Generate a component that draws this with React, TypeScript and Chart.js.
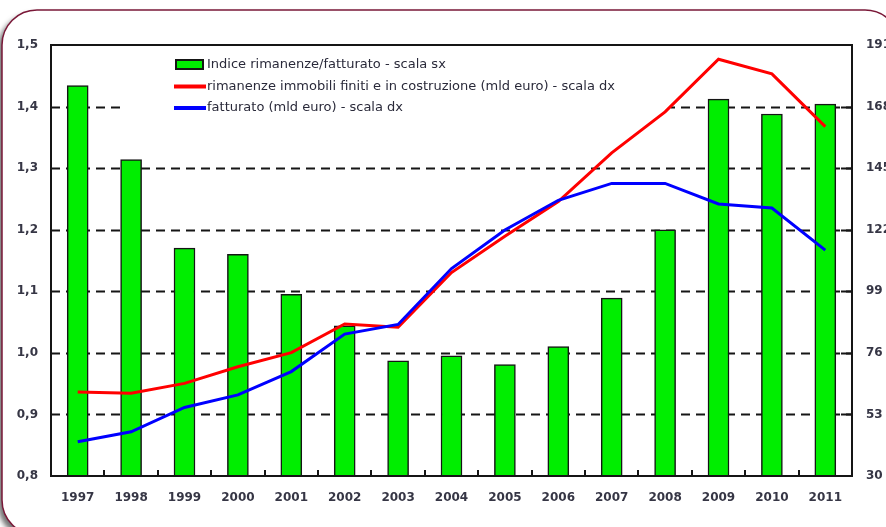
import React, { useEffect, useRef } from "react";
import { Chart, registerables } from "chart.js";

Chart.register(...registerables);

const years = ["1997", "1998", "1999", "2000", "2001", "2002", "2003", "2004", "2005", "2006", "2007", "2008", "2009", "2010", "2011"];
const ratioIndex = [1.434, 1.314, 1.17, 1.16, 1.095, 1.044, 0.987, 0.995, 0.981, 1.01, 1.089, 1.2, 1.412, 1.388, 1.404];
const inventories = [61.4, 60.9, 64.6, 70.8, 76.1, 86.8, 85.6, 106, 119.6, 132.5, 150.7, 166, 185.7, 180.2, 160.5];
const turnover = [42.8, 46.5, 55.6, 60.3, 69.0, 83, 86.6, 107.5, 121.9, 133, 139.3, 139.3, 131.6, 130.1, 114.4];
const leftTickLabels = ["0,8", "0,9", "1,0", "1,1", "1,2", "1,3", "1,4", "1,5"];
const rightTickLabels = ["30", "53", "76", "99", "122", "145", "168", "191"];
const seriesLabels = [
  "Indice rimanenze/fatturato - scala sx",
  "rimanenze immobili finiti e in costruzione (mld euro) - scala dx",
  "fatturato (mld euro) - scala dx",
];

const tickFont = { family: "'DejaVu Sans', sans-serif", size: 12, weight: "bold" as const };
const tickColor = "#363645";

const decor = {
  id: "decor",
  beforeDraw(chart: any) {
    const ctx = chart.ctx;
    ctx.save();
    ctx.fillStyle = "#ffffff";
    ctx.fillRect(0, 0, chart.width, chart.height);
    ctx.beginPath();
    (ctx as any).roundRect(2, 10, 898, 525, 35);
    ctx.shadowColor = "rgba(70,70,70,0.75)";
    ctx.shadowBlur = 5;
    ctx.shadowOffsetX = -4;
    ctx.shadowOffsetY = 4;
    ctx.fillStyle = "#ffffff";
    ctx.fill();
    ctx.shadowColor = "transparent";
    ctx.lineWidth = 1.5;
    ctx.strokeStyle = "#7a1838";
    ctx.stroke();
    ctx.restore();
  },
  beforeDatasetsDraw(chart: any) {
    const ctx = chart.ctx;
    const a = chart.chartArea;
    const ys = chart.scales.y;
    ctx.save();
    ctx.strokeStyle = "#151515";
    ctx.lineWidth = 2;
    ctx.setLineDash([9, 6]);
    ys.ticks.forEach((t: any, i: number) => {
      if (i === 0 || i === ys.ticks.length - 1) return;
      const y = Math.round(ys.getPixelForValue(t.value)) + 0.5;
      ctx.beginPath();
      ctx.moveTo(a.left, y);
      ctx.lineTo(a.right, y);
      ctx.stroke();
    });
    ctx.setLineDash([]);
    // legend background
    ctx.fillStyle = "#ffffff";
    ctx.fillRect(120, 50, 551, 66);
    ctx.restore();
  },
  afterDatasetsDraw(chart: any) {
    const ctx = chart.ctx;
    const a = chart.chartArea;
    const xs = chart.scales.x;
    const y1 = chart.scales.y1;
    ctx.save();
    ctx.strokeStyle = "#151515";
    ctx.lineWidth = 2;
    ctx.strokeRect(a.left, a.top, a.right - a.left, a.bottom - a.top);
    // bottom axis ticks between categories
    for (let i = 0; i < years.length - 1; i++) {
      const x = Math.round((xs.getPixelForTick(i) + xs.getPixelForTick(i + 1)) / 2);
      ctx.beginPath();
      ctx.moveTo(x, a.bottom);
      ctx.lineTo(x, a.bottom - 6);
      ctx.stroke();
    }
    // right axis inward ticks
    y1.ticks.forEach((t: any, i: number) => {
      if (i === 0 || i === y1.ticks.length - 1) return;
      const y = Math.round(y1.getPixelForValue(t.value)) + 0.5;
      ctx.beginPath();
      ctx.moveTo(a.right - 11, y);
      ctx.lineTo(a.right, y);
      ctx.stroke();
    });
    // legend
    const ds = chart.data.datasets;
    const rows = [64.5, 86.5, 108];
    ctx.font = "13px 'DejaVu Sans', sans-serif";
    ctx.textBaseline = "middle";
    ctx.textAlign = "left";
    ds.forEach((d: any, i: number) => {
      const y = rows[i];
      if (i === 0) {
        ctx.fillStyle = d.backgroundColor;
        ctx.fillRect(176, y - 4.5, 27, 9);
        ctx.lineWidth = 2;
        ctx.strokeStyle = "#151515";
        ctx.strokeRect(176, y - 4.5, 27, 9);
      } else {
        ctx.strokeStyle = d.borderColor;
        ctx.lineWidth = 4;
        ctx.beginPath();
        ctx.moveTo(174, y);
        ctx.lineTo(206, y);
        ctx.stroke();
      }
      ctx.fillStyle = "#2a2a3a";
      ctx.fillText(d.label, 207, y);
    });
    ctx.restore();
  },
};

export default function App() {
  const ref = useRef<HTMLCanvasElement | null>(null);
  useEffect(() => {
    if (!ref.current) return;
    const chart = new Chart(ref.current, {
      type: "bar",
      data: {
        labels: years,
        datasets: [
          {
            type: "bar",
            label: seriesLabels[0],
            data: ratioIndex,
            yAxisID: "y",
            backgroundColor: "#00ee00",
            borderColor: "#151515",
            borderWidth: 1.5,
            barThickness: 21,
            order: 3,
          } as any,
          {
            type: "line",
            label: seriesLabels[1],
            data: inventories,
            yAxisID: "y1",
            borderColor: "#ff0000",
            backgroundColor: "#ff0000",
            borderWidth: 3,
            pointRadius: 0,
            tension: 0,
            order: 2,
          } as any,
          {
            type: "line",
            label: seriesLabels[2],
            data: turnover,
            yAxisID: "y1",
            borderColor: "#0000ff",
            backgroundColor: "#0000ff",
            borderWidth: 3,
            pointRadius: 0,
            tension: 0,
            order: 1,
          } as any,
        ],
      },
      options: {
        responsive: false,
        animation: false,
        layout: { padding: { top: 45, left: 0, right: 0, bottom: 0 } },
        plugins: { legend: { display: false }, tooltip: { enabled: false } },
        scales: {
          x: {
            type: "category",
            offset: true,
            grid: { display: false, drawTicks: false },
            border: { display: false },
            ticks: { font: tickFont, color: tickColor, padding: 15, maxRotation: 0, autoSkip: false },
            afterFit: (s: any) => { s.height = 51; },
          },
          y: {
            position: "left",
            min: 0.8,
            max: 1.5,
            grid: { display: false, drawTicks: false },
            border: { display: false },
            ticks: {
              stepSize: 0.1,
              font: tickFont,
              color: tickColor,
              padding: 13,
              callback: (_v: any, i: number) => leftTickLabels[i],
            },
            afterFit: (s: any) => { s.width = 51; },
          },
          y1: {
            position: "right",
            min: 30,
            max: 191,
            grid: { display: false, drawTicks: false },
            border: { display: false },
            ticks: {
              stepSize: 23,
              font: tickFont,
              color: tickColor,
              padding: 14,
              callback: (_v: any, i: number) => rightTickLabels[i],
            },
            afterFit: (s: any) => { s.width = 34; },
          },
        },
      } as any,
      plugins: [decor],
    });
    return () => chart.destroy();
  }, []);
  return (
    <div style={{ position: "fixed", left: 0, top: 0, width: 886, height: 527, background: "#fff" }}>
      <canvas ref={ref} width={886} height={527} style={{ display: "block" }} />
    </div>
  );
}
